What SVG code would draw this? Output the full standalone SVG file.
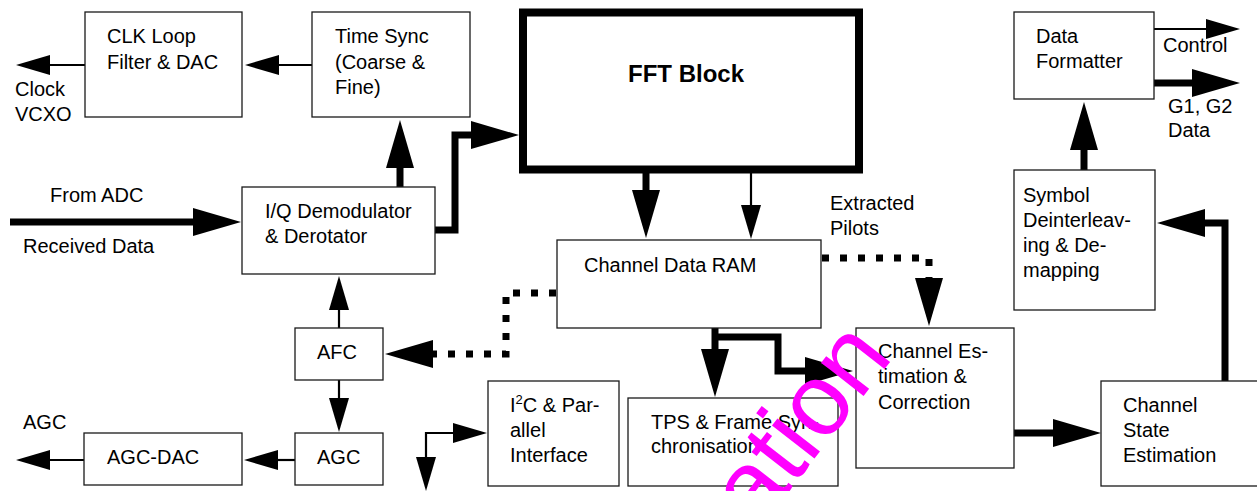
<svg xmlns="http://www.w3.org/2000/svg" width="1257" height="491" viewBox="0 0 1257 491">
<style>
text{font-family:"Liberation Sans",Arial,sans-serif;font-size:20px;fill:#000}
.box{fill:#fff;stroke:#1a1a1a;stroke-width:1.3}
.thin{fill:none;stroke:#000;stroke-width:2.2}
.thick{fill:none;stroke:#000;stroke-width:7}
.dot{fill:none;stroke:#000;stroke-width:7;stroke-dasharray:7 11}
.wm{font-size:102px;fill:#ff00ff}
</style>
<defs>
<marker id="hs" markerUnits="userSpaceOnUse" orient="auto-start-reverse" overflow="visible" refX="0" refY="0" markerWidth="1" markerHeight="1"><path d="M0,-10 L34,0 L0,10 Z" fill="#000"/></marker>
<marker id="hb" markerUnits="userSpaceOnUse" orient="auto" overflow="visible" refX="0" refY="0" markerWidth="1" markerHeight="1"><path d="M0,-14 L48,0 L0,14 Z" fill="#000"/></marker>
</defs>
<rect width="1257" height="491" fill="#fff"/>
<g id="connectors">
<path class="thin" d="M312,65 L279,65" marker-end="url(#hs)"/>
<path class="thin" d="M85,65 L50,65" marker-end="url(#hs)"/>
<path class="thin" d="M339,328 L339,310" marker-end="url(#hs)"/>
<path class="thin" d="M339,380 L339,398" marker-end="url(#hs)"/>
<path class="thin" d="M295,460 L278,460" marker-end="url(#hs)"/>
<path class="thin" d="M84,460 L50,460" marker-end="url(#hs)"/>
<path class="thin" d="M426,457 L426,433 L453,433" marker-start="url(#hs)" marker-end="url(#hs)"/>
<path class="thin" d="M751,173 L751,205" marker-end="url(#hs)"/>
<path class="thin" d="M1154,29 L1206,29" marker-end="url(#hs)"/>
<path class="thick" d="M10,222 L193,222" marker-end="url(#hb)"/>
<path class="thick" d="M400,187 L400,168" marker-end="url(#hb)"/>
<path class="thick" d="M435,230 L455,230 L455,135 L471,135" marker-end="url(#hb)"/>
<path class="thick" d="M646,173 L646,190" marker-end="url(#hb)"/>
<path class="thick" d="M715,328 L715,349" marker-end="url(#hb)"/>
<path class="thick" d="M715,337 L778,337 L778,371 L805,371" marker-end="url(#hb)"/>
<path class="thick" d="M1014,433 L1053,433" marker-end="url(#hb)"/>
<path class="thick" d="M1225,381 L1225,223 L1205,223" marker-end="url(#hb)"/>
<path class="thick" d="M1084,170 L1084,150" marker-end="url(#hb)"/>
<path class="thick" d="M1154,83 L1192,83" marker-end="url(#hb)"/>
<path class="dot" d="M822,258 L929,258 L929,278" marker-end="url(#hb)"/>
<path class="dot" d="M556,293 L506,293 L506,354 L433,354" marker-end="url(#hb)"/>
</g>
<g id="clk"><rect class="box" x="85" y="12" width="157" height="105"/><text x="107" y="43">CLK Loop</text><text x="107" y="69">Filter &amp; DAC</text></g>
<g id="timesync"><rect class="box" x="312" y="12" width="158" height="105"/><text x="335" y="43">Time Sync</text><text x="335" y="69">(Coarse &amp;</text><text x="335" y="94">Fine)</text></g>
<g id="fft"><rect x="523" y="12.5" width="336" height="157" fill="#fff" stroke="#000" stroke-width="8"/><text x="628" y="82" style="font-weight:bold;font-size:24px">FFT Block</text></g>
<g id="iq"><rect class="box" x="242" y="187" width="193" height="87"/><text x="265" y="218">I/Q Demodulator</text><text x="265" y="243">&amp; Derotator</text></g>
<g id="ram"><rect class="box" x="557" y="240" width="264" height="88"/><text x="584" y="272">Channel Data RAM</text></g>
<g id="afc"><rect class="box" x="295" y="328" width="88" height="52"/><text x="317" y="359">AFC</text></g>
<g id="agc"><rect class="box" x="295" y="433" width="88" height="52"/><text x="317" y="464">AGC</text></g>
<g id="agcdac"><rect class="box" x="84" y="433" width="158" height="52"/><text x="107" y="464">AGC-DAC</text></g>
<g id="i2c"><rect class="box" x="488" y="381" width="131" height="105"/><text x="510" y="412">I<tspan dy="-8" style="font-size:13px">2</tspan><tspan dy="8">C &amp; Par-</tspan></text><text x="510" y="437">allel</text><text x="510" y="462">Interface</text></g>
<g id="tps"><rect class="box" x="628" y="398" width="210" height="88"/><text x="651" y="429">TPS &amp; Frame Syn-</text><text x="651" y="453">chronisation</text></g>
<g id="chest"><rect class="box" x="856" y="328" width="158" height="140"/><text x="878" y="358">Channel Es-</text><text x="878" y="383">timation &amp;</text><text x="878" y="409">Correction</text></g>
<g id="chstate"><rect class="box" x="1101" y="381" width="165" height="105"/><text x="1123" y="412">Channel</text><text x="1123" y="437">State</text><text x="1123" y="462">Estimation</text></g>
<g id="symbol"><rect class="box" x="1014" y="170" width="141" height="140"/><text x="1023" y="202">Symbol</text><text x="1023" y="227">Deinterleav-</text><text x="1023" y="252">ing &amp; De-</text><text x="1023" y="277">mapping</text></g>
<g id="df"><rect class="box" x="1014" y="12" width="140" height="87"/><text x="1036" y="43">Data</text><text x="1036" y="68">Formatter</text></g>
<g id="labels">
<text x="15" y="96">Clock</text><text x="15" y="121">VCXO</text>
<text x="23" y="429">AGC</text>
<text x="50" y="202">From ADC</text><text x="23" y="253">Received Data</text>
<text x="830" y="210">Extracted</text><text x="830" y="235">Pilots</text>
<text x="1163" y="52">Control</text>
<text x="1168" y="113">G1, G2</text><text x="1168" y="137">Data</text>
</g>
<g id="watermark"><text class="wm" transform="translate(758,531) rotate(-52)">ation</text></g>
</svg>
